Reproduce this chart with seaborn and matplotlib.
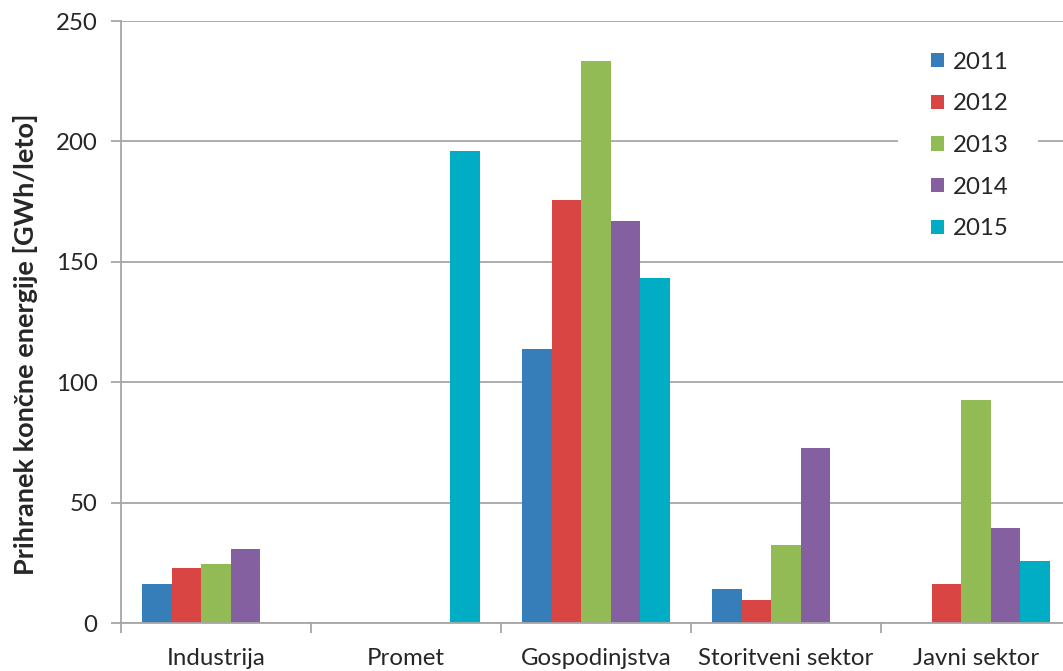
import numpy as np
import pandas as pd
import matplotlib
matplotlib.use("Agg")
import matplotlib.pyplot as plt
from matplotlib.patches import Rectangle
import seaborn as sns

categories = ["Industrija", "Promet", "Gospodinjstva", "Storitveni sektor", "Javni sektor"]
years = ["2011", "2012", "2013", "2014", "2015"]
v2011 = [16.2, np.nan, 113.8, 14.1, np.nan]
v2012 = [22.8, np.nan, 175.7, 9.5, 16.2]
v2013 = [24.5, np.nan, 233.4, 32.4, 92.6]
v2014 = [30.7, np.nan, 167.0, 72.7, 39.5]
v2015 = [np.nan, 196.0, 143.3, np.nan, 25.7]
colors = ["#357EBA", "#D84543", "#92BA55", "#8560A0", "#00ADC4"]

rows = []
for y, vals in zip(years, [v2011, v2012, v2013, v2014, v2015]):
    for c, v in zip(categories, vals):
        rows.append({"cat": c, "year": y, "val": v})
df = pd.DataFrame(rows)

sns.set_theme(style="white")
plt.rcParams["font.family"] = ["Lato", "DejaVu Sans"]

TXT = "#262626"
GRID = "#A6A6A6"
FS = 17.3

fig = plt.figure(figsize=(10.63, 6.71), dpi=100)
# axes extends slightly beyond the right edge like the reference
ax = fig.add_axes([121/1063, (671-623)/671, 950/1063, 602/671])
sns.barplot(data=df, x="cat", y="val", hue="year", palette=colors,
            width=0.78, saturation=1, ax=ax, errorbar=None, linewidth=0)

ax.set_xlim(-0.5, 4.5)
ax.set_ylim(0, 250)
ax.set_yticks([0, 50, 100, 150, 200, 250])
ax.yaxis.grid(True, color=GRID, linewidth=1.3)
ax.set_axisbelow(True)
for s in ["top", "right"]:
    ax.spines[s].set_visible(False)
for s in ["left", "bottom"]:
    ax.spines[s].set_color(GRID)
    ax.spines[s].set_linewidth(1.3)

ax.set_xticks(np.arange(5))
ax.set_xticklabels(categories, fontsize=FS, color=TXT)
ax.tick_params(axis="x", length=0, pad=18)
ax.set_xticks(np.arange(-0.5, 5, 1), minor=True)
ax.tick_params(axis="x", which="minor", length=7, width=1.3, color=GRID, bottom=True)
ax.tick_params(axis="y", length=7, width=1.3, color=GRID, left=True,
               labelsize=FS, labelcolor=TXT, pad=10)
ax.set_xlabel("")
ax.set_ylabel("Prihranek končne energije [GWh/leto]", fontsize=19.5, fontweight="bold",
              color=TXT)
ax.yaxis.set_label_coords(-0.087, 0.463)

# white legend background box (wider than the entries, as in the reference)
ax.add_patch(Rectangle((0.818, 0.62), 0.147, 0.36, transform=ax.transAxes,
                       facecolor="white", edgecolor="none", zorder=0.8))

leg = ax.legend(loc="upper left", bbox_to_anchor=(0.825, 0.993), frameon=False,
                fontsize=FS, handlelength=0.55, handleheight=0.55,
                labelspacing=0.86, handletextpad=0.35, borderpad=0.6)
for t in leg.get_texts():
    t.set_color(TXT)

fig.savefig("out.png", dpi=100)
